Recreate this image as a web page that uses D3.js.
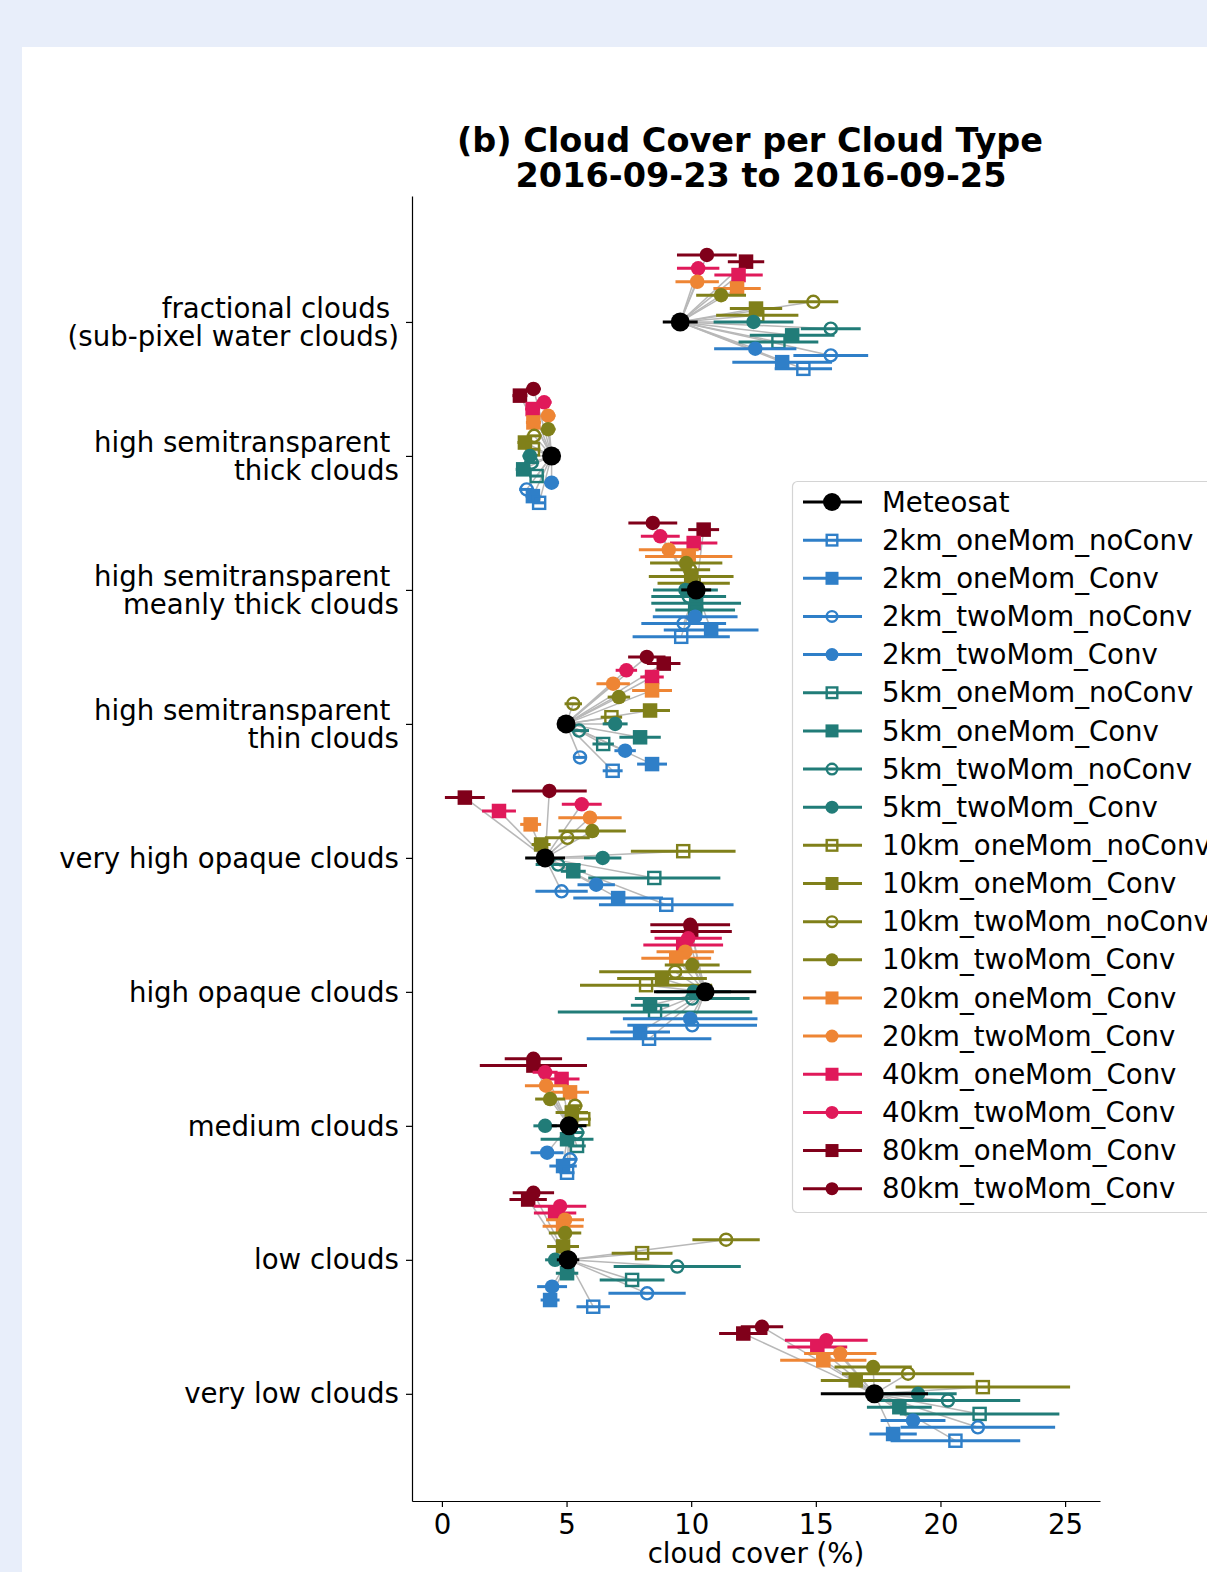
<!DOCTYPE html>
<html><head><meta charset="utf-8">
<script src="https://cdn.jsdelivr.net/npm/d3@7"></script>
<style>
html,body{margin:0;padding:0;background:#e8eefa;}
svg{display:block;}
text{font-family:"DejaVu Sans",sans-serif;}
</style></head><body>
<svg id="chart" width="1207" height="1572"></svg>
<script>
// ---------- data ----------
const categories = [
  "fractional clouds \n(sub-pixel water clouds)",
  "high semitransparent \nthick clouds",
  "high semitransparent \nmeanly thick clouds",
  "high semitransparent \nthin clouds",
  "very high opaque clouds",
  "high opaque clouds",
  "medium clouds",
  "low clouds",
  "very low clouds"
];
const xTicks = [0, 5, 10, 15, 20, 25];
const titleLines = ["(b) Cloud Cover per Cloud Type", "2016-09-23 to 2016-09-25"];
const xLabel = "cloud cover (%)";

const meteosatValues = [9.56, 4.4, 10.2, 4.98, 4.14, 10.56, 5.1, 5.06, 17.35];
const meteosatErrors = [0.7, 0.3, 0.6, 0.3, 0.8, 2.05, 0.7, 0.45, 2.15];

const v_2km_oneMom_noConv = [14.5, 3.9, 9.6, 6.85, 9.0, 8.31, 5.02, 6.07, 20.6];
const e_2km_oneMom_noConv = [1.15, 0.25, 1.95, 0.4, 2.7, 2.5, 0.3, 0.67, 2.6];
const v_2km_oneMom_Conv = [13.65, 3.65, 10.8, 8.43, 7.07, 7.95, 4.86, 4.34, 18.1];
const e_2km_oneMom_Conv = [2.0, 0.3, 1.9, 0.6, 1.8, 1.2, 0.55, 0.38, 0.95];
const v_2km_twoMom_noConv = [15.6, 3.4, 9.7, 5.54, 4.8, 10.04, 5.14, 8.23, 21.5];
const e_2km_twoMom_noConv = [1.5, 0.3, 1.7, 0.2, 1.05, 2.6, 0.3, 1.55, 3.1];
const v_2km_twoMom_Conv = [12.57, 4.4, 10.16, 7.35, 6.19, 9.96, 4.22, 4.42, 18.9];
const e_2km_twoMom_Conv = [1.65, 0.3, 1.7, 0.43, 0.75, 2.7, 0.66, 0.6, 1.3];
const v_5km_oneMom_noConv = [13.5, 3.8, 10.16, 6.47, 8.52, 8.55, 5.42, 7.63, 21.57];
const e_5km_oneMom_noConv = [1.6, 0.3, 1.6, 0.43, 2.65, 3.9, 0.35, 1.3, 3.2];
const v_5km_oneMom_Conv = [14.05, 3.26, 10.2, 7.95, 5.27, 8.35, 5.02, 5.02, 18.35];
const e_5km_oneMom_Conv = [1.7, 0.3, 1.8, 0.83, 0.5, 0.77, 1.06, 0.45, 1.3];
const v_5km_twoMom_noConv = [15.6, 3.6, 9.9, 5.5, 4.66, 10.04, 5.42, 9.44, 20.3];
const e_5km_twoMom_noConv = [1.2, 0.3, 1.5, 0.4, 0.9, 2.3, 0.3, 2.55, 2.9];
const v_5km_twoMom_Conv = [12.5, 3.53, 9.77, 6.95, 6.45, 10.1, 4.14, 4.54, 19.1];
const e_5km_twoMom_Conv = [1.6, 0.3, 1.3, 0.5, 0.75, 1.5, 0.47, 0.4, 1.55];
const v_10km_oneMom_noConv = [12.65, 3.65, 10.1, 6.8, 9.68, 8.19, 5.67, 8.03, 21.7];
const e_10km_oneMom_noConv = [1.65, 0.3, 1.45, 0.43, 2.1, 2.65, 0.3, 1.22, 3.5];
const v_10km_oneMom_Conv = [12.6, 3.33, 10.0, 8.35, 3.98, 8.83, 5.21, 4.86, 16.6];
const e_10km_oneMom_Conv = [1.05, 0.3, 1.7, 0.8, 0.38, 1.8, 0.65, 0.64, 1.4];
const v_10km_twoMom_noConv = [14.9, 3.7, 9.96, 5.27, 5.03, 9.36, 5.34, 11.4, 18.7];
const e_10km_twoMom_noConv = [1.0, 0.3, 0.8, 0.35, 0.9, 3.05, 0.3, 1.35, 2.65];
const v_10km_twoMom_Conv = [11.2, 4.26, 9.8, 7.1, 6.03, 10.04, 4.34, 4.94, 17.3];
const e_10km_twoMom_Conv = [1.0, 0.3, 1.45, 0.45, 1.35, 1.1, 0.6, 0.65, 1.55];
const v_20km_oneMom_Conv = [11.84, 3.67, 9.9, 8.43, 3.56, 9.4, 5.14, 4.86, 15.3];
const e_20km_oneMom_Conv = [0.95, 0.3, 1.75, 0.8, 0.42, 1.4, 0.76, 0.82, 1.73];
const v_20km_twoMom_Conv = [10.24, 4.26, 9.1, 6.87, 5.94, 9.76, 4.18, 4.94, 15.98];
const e_20km_twoMom_Conv = [0.87, 0.3, 1.2, 0.67, 1.27, 1.15, 0.85, 0.76, 1.45];
const v_40km_oneMom_Conv = [11.9, 3.64, 10.1, 8.43, 2.29, 9.68, 4.8, 4.54, 15.06];
const e_40km_oneMom_Conv = [0.97, 0.3, 0.95, 0.47, 0.68, 1.6, 0.72, 0.85, 1.2];
const v_40km_twoMom_Conv = [10.28, 4.1, 8.76, 7.4, 5.61, 9.88, 4.14, 4.74, 15.42];
const e_40km_twoMom_Conv = [0.85, 0.3, 0.78, 0.43, 0.8, 1.35, 0.5, 1.05, 1.66];
const v_80km_oneMom_Conv = [12.2, 3.13, 10.5, 8.9, 0.92, 10.0, 3.67, 3.46, 12.09];
const e_80km_oneMom_Conv = [0.73, 0.3, 0.62, 0.67, 0.8, 1.63, 2.15, 0.75, 0.97];
const v_80km_twoMom_Conv = [10.63, 3.67, 8.46, 8.22, 4.31, 9.96, 3.67, 3.67, 12.84];
const e_80km_twoMom_Conv = [1.2, 0.3, 0.98, 0.75, 1.5, 1.6, 1.15, 0.83, 0.85];

const modelNames = [
  "2km_oneMom_noConv","2km_oneMom_Conv","2km_twoMom_noConv","2km_twoMom_Conv",
  "5km_oneMom_noConv","5km_oneMom_Conv","5km_twoMom_noConv","5km_twoMom_Conv",
  "10km_oneMom_noConv","10km_oneMom_Conv","10km_twoMom_noConv","10km_twoMom_Conv",
  "20km_oneMom_Conv","20km_twoMom_Conv","40km_oneMom_Conv","40km_twoMom_Conv",
  "80km_oneMom_Conv","80km_twoMom_Conv"
];
const modelValues = [
  v_2km_oneMom_noConv, v_2km_oneMom_Conv, v_2km_twoMom_noConv, v_2km_twoMom_Conv,
  v_5km_oneMom_noConv, v_5km_oneMom_Conv, v_5km_twoMom_noConv, v_5km_twoMom_Conv,
  v_10km_oneMom_noConv, v_10km_oneMom_Conv, v_10km_twoMom_noConv, v_10km_twoMom_Conv,
  v_20km_oneMom_Conv, v_20km_twoMom_Conv, v_40km_oneMom_Conv, v_40km_twoMom_Conv,
  v_80km_oneMom_Conv, v_80km_twoMom_Conv
];
const modelErrors = [
  e_2km_oneMom_noConv, e_2km_oneMom_Conv, e_2km_twoMom_noConv, e_2km_twoMom_Conv,
  e_5km_oneMom_noConv, e_5km_oneMom_Conv, e_5km_twoMom_noConv, e_5km_twoMom_Conv,
  e_10km_oneMom_noConv, e_10km_oneMom_Conv, e_10km_twoMom_noConv, e_10km_twoMom_Conv,
  e_20km_oneMom_Conv, e_20km_twoMom_Conv, e_40km_oneMom_Conv, e_40km_twoMom_Conv,
  e_80km_oneMom_Conv, e_80km_twoMom_Conv
];

// ---------- styling ----------
const resColor = {"2km":"#2f7fc8","5km":"#217c78","10km":"#80801a","20km":"#ee8534","40km":"#e0195a","80km":"#80001a"};
const W = 1207, H = 1572;
const FS = 27.6;

const svg = d3.select("#chart");
svg.append("rect").attr("x",22).attr("y",47).attr("width",W-22).attr("height",H-47).attr("fill","#ffffff");

const x = d3.scaleLinear().domain([-1.2, 26.4]).range([412, 1100]);
const y = d3.scaleLinear().domain([-0.94, 8.8]).range([196, 1501]);

const series = modelNames.map((name, j) => {
  const res = name.split("_")[0];
  return {
    name,
    color: resColor[res],
    shape: name.includes("oneMom") ? "square" : "circle",
    filled: !name.endsWith("noConv"),
    vals: modelValues[j],
    errs: modelErrors[j],
    offset: (7 - j) * 0.05
  };
});

// grey connectors
const gLines = svg.append("g");
series.forEach(s => {
  s.vals.forEach((v, i) => {
    gLines.append("line")
      .attr("x1", x(meteosatValues[i])).attr("y1", y(i))
      .attr("x2", x(v)).attr("y2", y(i + s.offset))
      .attr("stroke", "#b8b8b8").attr("stroke-width", 1.5);
  });
});

function drawMarker(g, s, cx, cy, size) {
  if (s.shape === "square") {
    const a = size;
    if (s.filled) {
      g.append("rect").attr("x", cx - a/2).attr("y", cy - a/2).attr("width", a).attr("height", a).attr("fill", s.color);
    } else {
      g.append("rect").attr("x", cx - a/2 + 1.2).attr("y", cy - a/2 + 1.2).attr("width", a - 2.4).attr("height", a - 2.4)
        .attr("fill", "none").attr("stroke", s.color).attr("stroke-width", 2.4);
    }
  } else {
    const r = size / 2;
    if (s.filled) {
      g.append("circle").attr("cx", cx).attr("cy", cy).attr("r", r).attr("fill", s.color);
    } else {
      g.append("circle").attr("cx", cx).attr("cy", cy).attr("r", r - 1.2)
        .attr("fill", "none").attr("stroke", s.color).attr("stroke-width", 2.4);
    }
  }
}

const gMarks = svg.append("g");
series.slice().reverse().forEach(s => {
  const g = gMarks.append("g");
  s.vals.forEach((v, i) => {
    const cy = y(i + s.offset);
    g.append("line").attr("x1", x(v - s.errs[i])).attr("x2", x(v + s.errs[i]))
      .attr("y1", cy).attr("y2", cy).attr("stroke", s.color).attr("stroke-width", 3);
    drawMarker(g, s, x(v), cy, 14.5);
  });
});
// Meteosat
const gMet = svg.append("g");
meteosatValues.forEach((v, i) => {
  gMet.append("line").attr("x1", x(v - meteosatErrors[i])).attr("x2", x(v + meteosatErrors[i]))
    .attr("y1", y(i)).attr("y2", y(i)).attr("stroke", "#000").attr("stroke-width", 3);
  gMet.append("circle").attr("cx", x(v)).attr("cy", y(i)).attr("r", 9.5).attr("fill", "#000");
});

// axes
const yAxis = d3.axisLeft(y).tickValues(d3.range(categories.length)).tickFormat("").tickSize(6).tickSizeOuter(0);
const gy = svg.append("g").attr("transform", "translate(412,0)").call(yAxis);
gy.select(".domain").attr("stroke", "#000").attr("stroke-width", 1.2);
gy.selectAll(".tick line").attr("stroke", "#000").attr("stroke-width", 1.2);
categories.forEach((c, i) => {
  const lines = c.split("\n");
  const t = svg.append("text").attr("text-anchor", "end").attr("font-size", FS).attr("fill", "#000")
    .style("white-space", "pre");
  const n = lines.length;
  lines.forEach((ln, k) => {
    t.append("tspan").attr("x", 399).attr("y", y(i) + (k - (n - 1) / 2) * 28)
      .attr("dy", "0.35em").text(ln);
  });
});

const xAxis = d3.axisBottom(x).tickValues(xTicks).tickSize(6).tickSizeOuter(0).tickPadding(7);
const gx = svg.append("g").attr("transform", "translate(0,1501)").call(xAxis);
gx.select(".domain").attr("stroke", "#000").attr("stroke-width", 1.2);
gx.selectAll(".tick line").attr("stroke", "#000").attr("stroke-width", 1.2);
gx.selectAll(".tick text").attr("font-size", FS).attr("font-family", "DejaVu Sans").attr("fill", "#000");

svg.append("text").attr("x", 756).attr("y", 1563).attr("text-anchor", "middle").attr("font-size", FS).text(xLabel);

// title (one text element, two lines)
const tt = svg.append("text").attr("text-anchor", "middle").attr("font-size", 33.5).attr("font-weight", "bold").attr("fill", "#000");
tt.append("tspan").attr("x", 750).attr("y", 152).text(titleLines[0]);
tt.append("tspan").attr("x", 761).attr("y", 187).text(titleLines[1]);

// legend
const lg = svg.append("g");
lg.append("rect").attr("x", 792.5).attr("y", 481.5).attr("width", 500).attr("height", 731).attr("rx", 5)
  .attr("fill", "#fff").attr("fill-opacity", 0.85).attr("stroke", "#d4d4d4").attr("stroke-width", 1.2);
const legendItems = [{name: "Meteosat", color: "#000", shape: "circle", filled: true, met: true}].concat(series);
legendItems.forEach((s, k) => {
  const ly = 502 + k * 38.15;
  lg.append("line").attr("x1", 803).attr("x2", 862).attr("y1", ly).attr("y2", ly).attr("stroke", s.color).attr("stroke-width", 3);
  if (s.met) {
    lg.append("circle").attr("cx", 832).attr("cy", ly).attr("r", 9).attr("fill", "#000");
  } else {
    drawMarker(lg, s, 832, ly, 13);
  }
  lg.append("text").attr("x", 882).attr("y", ly).attr("dy", "0.35em").attr("font-size", FS).attr("fill", "#000").text(s.name);
});
</script>
</body></html>
